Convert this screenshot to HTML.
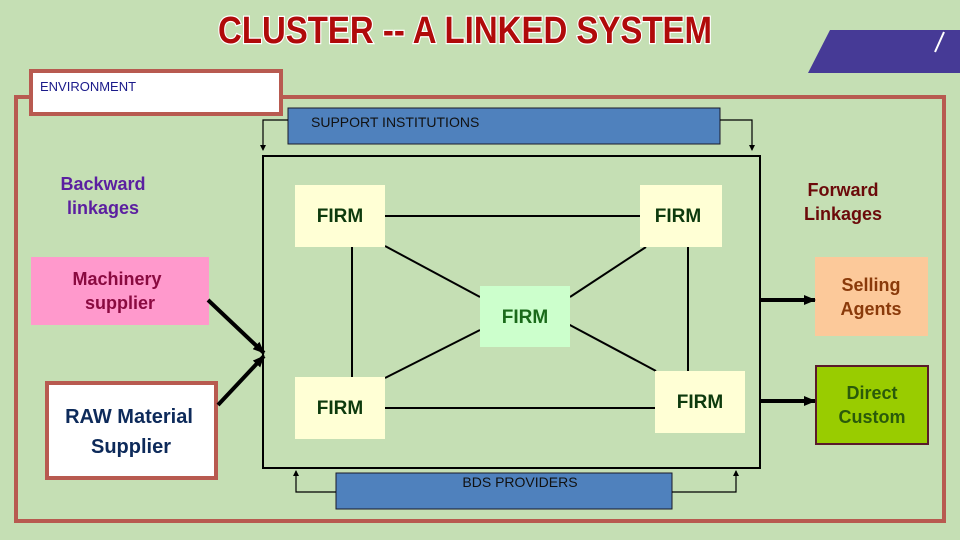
<!DOCTYPE html>
<html><head><meta charset="utf-8"><style>
html,body{margin:0;padding:0;background:#c5dfb4;}
svg{display:block;}
text{font-family:"Liberation Sans",sans-serif;}
</style></head><body>
<svg width="960" height="540" viewBox="0 0 960 540" xmlns="http://www.w3.org/2000/svg">
<defs>
<marker id="a" markerWidth="6" markerHeight="6" refX="5" refY="3" orient="auto" markerUnits="userSpaceOnUse"><path d="M0,0 L6,3 L0,6 z" fill="#000"/></marker>
<marker id="b" markerWidth="12" markerHeight="10" refX="11" refY="5" orient="auto" markerUnits="userSpaceOnUse"><path d="M0,0 L12,5 L0,10 z" fill="#000"/></marker>
</defs>
<rect width="960" height="540" fill="#c5dfb4"/>
<!-- title -->
<text x="465" y="43" text-anchor="middle" font-family="'Liberation Sans Narrow','Liberation Sans',sans-serif" font-weight="bold" font-size="38" textLength="494" lengthAdjust="spacingAndGlyphs" fill="#b00a0a" stroke="#fff" stroke-width="2.5" paint-order="stroke">CLUSTER -- A LINKED SYSTEM</text>
<!-- purple shape -->
<polygon points="830,30 960,30 960,73 808,73" fill="#463a96"/>
<line x1="944" y1="32" x2="935" y2="52" stroke="#fff" stroke-width="2"/>
<!-- outer frame -->
<rect x="16" y="97" width="928" height="424" fill="none" stroke="#b85a50" stroke-width="4"/>
<rect x="31" y="71" width="250" height="43" fill="#fff" stroke="#b85a50" stroke-width="4"/>
<text x="40" y="91" font-size="13" fill="#1a1a8a">ENVIRONMENT</text>
<!-- support -->
<rect x="288" y="108" width="432" height="36" fill="#4f81bd" stroke="#1a1a2a" stroke-width="1"/>
<text x="311" y="127" font-size="14" fill="#111">SUPPORT INSTITUTIONS</text>
<polyline points="288,120 263,120 263,150" fill="none" stroke="#000" stroke-width="1.2" marker-end="url(#a)"/>
<polyline points="720,120 752,120 752,150" fill="none" stroke="#000" stroke-width="1.2" marker-end="url(#a)"/>
<!-- inner box -->
<rect x="263" y="156" width="497" height="312" fill="none" stroke="#000" stroke-width="2"/>
<!-- BDS -->
<rect x="336" y="473" width="336" height="36" fill="#4f81bd" stroke="#1a1a2a" stroke-width="1"/>
<text x="520" y="487" text-anchor="middle" font-size="14" fill="#111">BDS PROVIDERS</text>
<polyline points="336,492 296,492 296,471" fill="none" stroke="#000" stroke-width="1.2" marker-end="url(#a)"/>
<polyline points="672,492 736,492 736,471" fill="none" stroke="#000" stroke-width="1.2" marker-end="url(#a)"/>
<!-- connecting lines -->
<g stroke="#000" stroke-width="2">
<line x1="385" y1="216" x2="640" y2="216"/>
<line x1="352" y1="247" x2="352" y2="377"/>
<line x1="688" y1="247" x2="688" y2="371"/>
<line x1="385" y1="408" x2="655" y2="408"/>
<line x1="385" y1="246" x2="480" y2="297"/>
<line x1="570" y1="297" x2="646" y2="247"/>
<line x1="480" y1="330" x2="385" y2="378"/>
<line x1="568" y1="324" x2="656" y2="371"/>
</g>
<!-- firms -->
<g font-weight="bold" font-size="19" fill="#0d3a0d" text-anchor="middle">
<rect x="295" y="185" width="90" height="62" fill="#ffffd5"/><text x="340" y="222">FIRM</text>
<rect x="640" y="185" width="82" height="62" fill="#ffffd5"/><text x="678" y="222">FIRM</text>
<rect x="480" y="286" width="90" height="61" fill="#ccffcc"/><text x="525" y="323" fill="#1a6a1a">FIRM</text>
<rect x="295" y="377" width="90" height="62" fill="#ffffd5"/><text x="340" y="414">FIRM</text>
<rect x="655" y="371" width="90" height="62" fill="#ffffd5"/><text x="700" y="408">FIRM</text>
</g>
<!-- backward -->
<text x="103" y="190" text-anchor="middle" font-weight="bold" font-size="18" fill="#5b1fa0">Backward</text>
<text x="103" y="214" text-anchor="middle" font-weight="bold" font-size="18" fill="#5b1fa0">linkages</text>
<rect x="31" y="257" width="178" height="68" fill="#ff99cc"/>
<text x="117" y="285" text-anchor="middle" font-weight="bold" font-size="18" fill="#8a0a40">Machinery</text>
<text x="120" y="309" text-anchor="middle" font-weight="bold" font-size="18" fill="#8a0a40">supplier</text>
<rect x="47" y="383" width="169" height="95" fill="#fff" stroke="#b85a50" stroke-width="4"/>
<text x="129" y="423" text-anchor="middle" font-weight="bold" font-size="20" fill="#0d2a5a">RAW Material</text>
<text x="131" y="453" text-anchor="middle" font-weight="bold" font-size="20" fill="#0d2a5a">Supplier</text>
<line x1="208" y1="300" x2="264" y2="353" stroke="#000" stroke-width="4" marker-end="url(#b)"/>
<line x1="218" y1="405" x2="264" y2="356" stroke="#000" stroke-width="4" marker-end="url(#b)"/>
<!-- forward -->
<text x="843" y="196" text-anchor="middle" font-weight="bold" font-size="18" fill="#6b0a0a">Forward</text>
<text x="843" y="220" text-anchor="middle" font-weight="bold" font-size="18" fill="#6b0a0a">Linkages</text>
<rect x="815" y="257" width="113" height="79" fill="#fcc99a"/>
<text x="871" y="291" text-anchor="middle" font-weight="bold" font-size="18" fill="#8a3a0a">Selling</text>
<text x="871" y="315" text-anchor="middle" font-weight="bold" font-size="18" fill="#8a3a0a">Agents</text>
<rect x="816" y="366" width="112" height="78" fill="#99cc00" stroke="#5a1a2a" stroke-width="2"/>
<text x="872" y="399" text-anchor="middle" font-weight="bold" font-size="18" fill="#2a5a0a">Direct</text>
<text x="872" y="423" text-anchor="middle" font-weight="bold" font-size="18" fill="#2a5a0a">Custom</text>
<line x1="760" y1="300" x2="815" y2="300" stroke="#000" stroke-width="4" marker-end="url(#b)"/>
<line x1="760" y1="401" x2="815" y2="401" stroke="#000" stroke-width="4" marker-end="url(#b)"/>
</svg>
</body></html>
